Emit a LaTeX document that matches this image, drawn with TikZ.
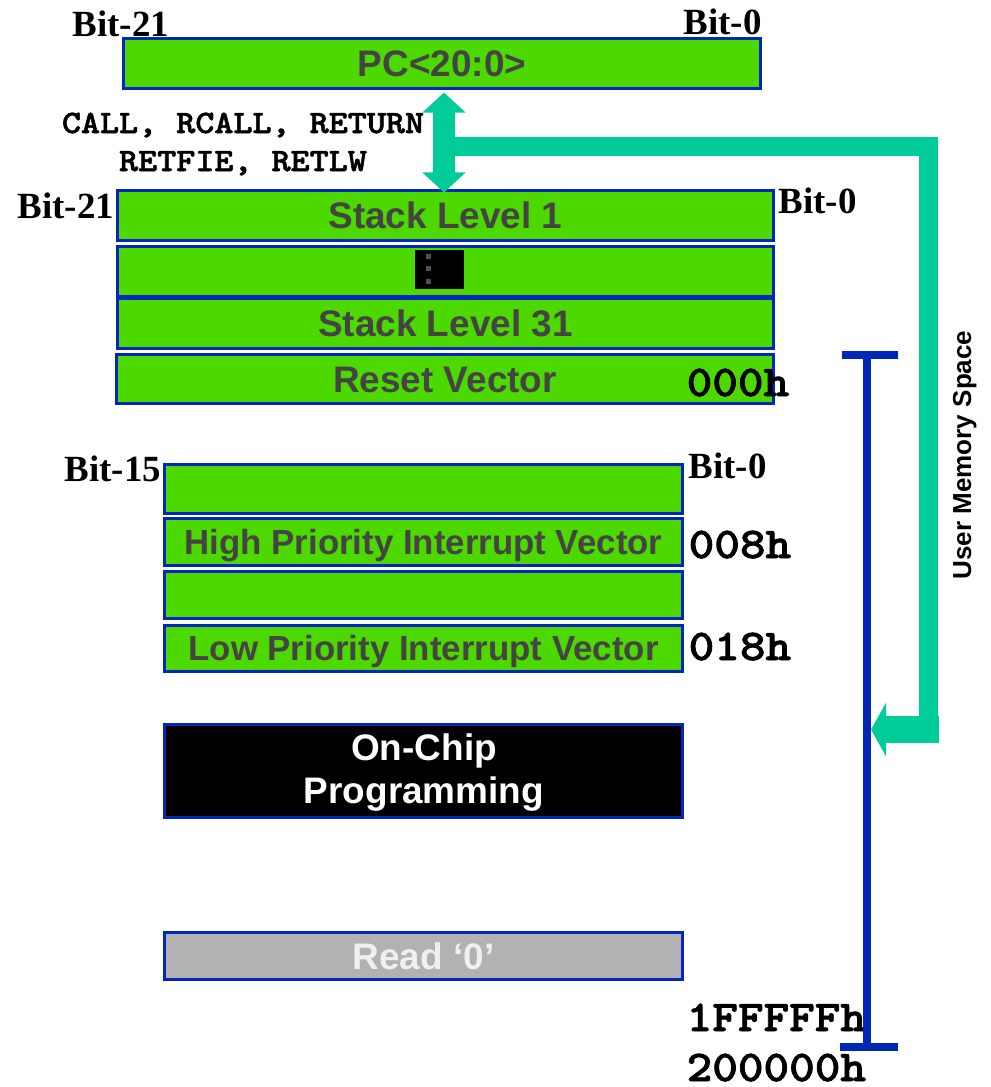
\documentclass[tikz,border=0pt]{standalone}
\usepackage{fontspec}
\setmainfont{Liberation Sans}
\newfontfamily\bitfamily{Liberation Serif}
\newfontfamily\codefamily{lmmonolt10-bold}[Extension=.otf, FakeBold=1.5]
\usetikzlibrary{arrows.meta,calc}

% typewriter text, widened to Courier proportions
\newcommand\widemono[1]{\scalebox{1.11}[1]{#1}}

\definecolor{regfill}{RGB}{77,216,0}
\definecolor{regline}{RGB}{0,40,190}
\definecolor{regtext}{RGB}{68,68,68}
\definecolor{flow}{RGB}{0,204,153}
\definecolor{spanblue}{RGB}{0,38,182}
\definecolor{readfill}{RGB}{178,178,178}
\definecolor{dotgray}{RGB}{80,80,80}

\begin{document}
\begin{tikzpicture}[x=0.01cm,y=-0.01cm,
  cell/.style={draw=regline, line width=0.85pt, fill=regfill, text=regtext,
    inner sep=0pt, font=\bfseries\fontsize{10.5pt}{12pt}\selectfont,
    text height=7.5pt, text depth=0pt},
  smallcell/.style={cell, font=\bfseries\fontsize{9.9pt}{12pt}\selectfont,
    text height=7.1pt},
  wide/.style={minimum width=6.56cm, minimum height=0.49cm},
  narrow/.style={minimum width=5.18cm, minimum height=0.48cm},
  bitlbl/.style={font=\bitfamily\bfseries\fontsize{10.5pt}{12pt}\selectfont,
    inner sep=0pt, anchor=base west},
  addr/.style={font=\codefamily\fontsize{12.5pt}{14pt}\selectfont,
    inner sep=0pt, anchor=base west},
  instr/.style={font=\codefamily\fontsize{9.3pt}{11pt}\selectfont,
    inner sep=0pt, anchor=base},
  whitetxt/.style={font=\bfseries\fontsize{10.5pt}{12pt}\selectfont,
    text=white, inner sep=0pt, anchor=base},
  flowline/.style={draw=flow, line join=miter},
  spanline/.style={draw=spanblue, line width=2.28pt}
]
\useasboundingbox (0,0) rectangle (990,1087);

% program counter
\node[cell, minimum width=6.37cm, minimum height=0.49cm] (pc) at (442,63.5) {PC<20:0>};
\node[bitlbl] (pcmsb) at (72,36) {Bit-21};
\node[bitlbl] (pclsb) at (683,34) {Bit-0};

% return address stack
\node[cell, wide] (s1) at (445.5,215.5) {Stack Level 1};
\node[cell, wide] (sdots) at (445.5,271.5) {};
\node[cell, wide] (s31) at (445.5,323.5) {Stack Level 31};
\node[cell, wide] (rv) at (445,379) {Reset Vector};
\node[bitlbl] (stmsb) at (17,218) {Bit-21};
\node[bitlbl] (stlsb) at (778,213) {Bit-0};

% vertical ellipsis between stack levels
\node[fill=black, inner sep=0pt, minimum width=0.49cm, minimum height=0.39cm] (ell) at (439.5,269.5) {};
\foreach \yy in {256,268.5,281}
  \fill[dotgray] (426,\yy-2.5) rectangle (431,\yy+2.5);

% instructions that move the PC to and from the stack
\node[instr] (ins1) at (243,133) {\widemono{CALL, RCALL, RETURN}};
\node[instr] (ins2) at (243,171) {\widemono{RETFIE, RETLW}};

% program memory
\node[bitlbl] (pmmsb) at (64,481) {Bit-15};
\node[bitlbl] (pmlsb) at (688,478) {Bit-0};
\node[cell, narrow, minimum height=0.49cm] (e1) at (423.5,489) {};
\node[smallcell, narrow, minimum height=0.47cm] (hp) at (423.5,542) {High Priority Interrupt Vector};
\node[cell, narrow, minimum height=0.47cm] (e2) at (423.5,595) {};
\node[smallcell, narrow, minimum height=0.46cm] (lp) at (423.5,648.5) {Low Priority Interrupt Vector};

\node[draw=regline, line width=0.85pt, fill=black, minimum width=5.18cm,
  minimum height=0.93cm, inner sep=0pt] (oc) at (423.5,771) {};
\node[whitetxt] (oc1) at (424,760) {On-Chip};
\node[whitetxt] (oc2) at (424,803) {Programming};

\node[draw=regline, line width=0.85pt, fill=readfill, text=white!94!black,
  minimum width=5.18cm, minimum height=0.47cm, inner sep=0pt,
  font=\bfseries\fontsize{10.5pt}{12pt}\selectfont, text height=7.5pt,
  text depth=0pt] (rd) at (423.5,956) {Read ‘0’};

% addresses
\node[addr] (a000) at (686,396) {\widemono{000h}};
\node[addr] (a008) at (688,558) {\widemono{008h}};
\node[addr] (a018) at (688,660) {\widemono{018h}};
\node[addr] (aend) at (686,1031) {\widemono{1FFFFFh}};
\node[addr] (alim) at (686,1081) {\widemono{200000h}};

% extent of user memory
\coordinate (spantop) at (867,355);
\coordinate (spanbot) at (867,1047);
\draw[spanline] (spantop) -- (spanbot);
\draw[spanline] (842,355) -- (898,355);
\draw[spanline] (840,1047) -- (898,1047);
\node[rotate=90, anchor=base, inner sep=0pt,
  font=\bfseries\fontsize{7.4pt}{9pt}\selectfont] (ums) at (971,455) {User Memory Space};

% PC <-> stack transfer and path into user memory
\coordinate (ax) at (444,0);
\coordinate (bend) at (928.5,146.5);
\coordinate (hit) at (871,729.5);
\draw[flowline, line width=5.4pt] (444,146.5) -- (bend) -- (928.5,720);
\draw[flowline, line width=5.98pt,
  {Triangle[width=11.95pt,length=5.69pt]}-{Triangle[width=11.95pt,length=5.69pt]}]
  ([yshift=-0.03cm]pc.south -| ax) -- ([yshift=-0.03cm]s1.north -| ax);
\draw[flowline, line width=7.68pt, -{Triangle[width=15.08pt,length=4.27pt]}]
  (939,729.5) -- (hit);
\end{tikzpicture}
\end{document}
